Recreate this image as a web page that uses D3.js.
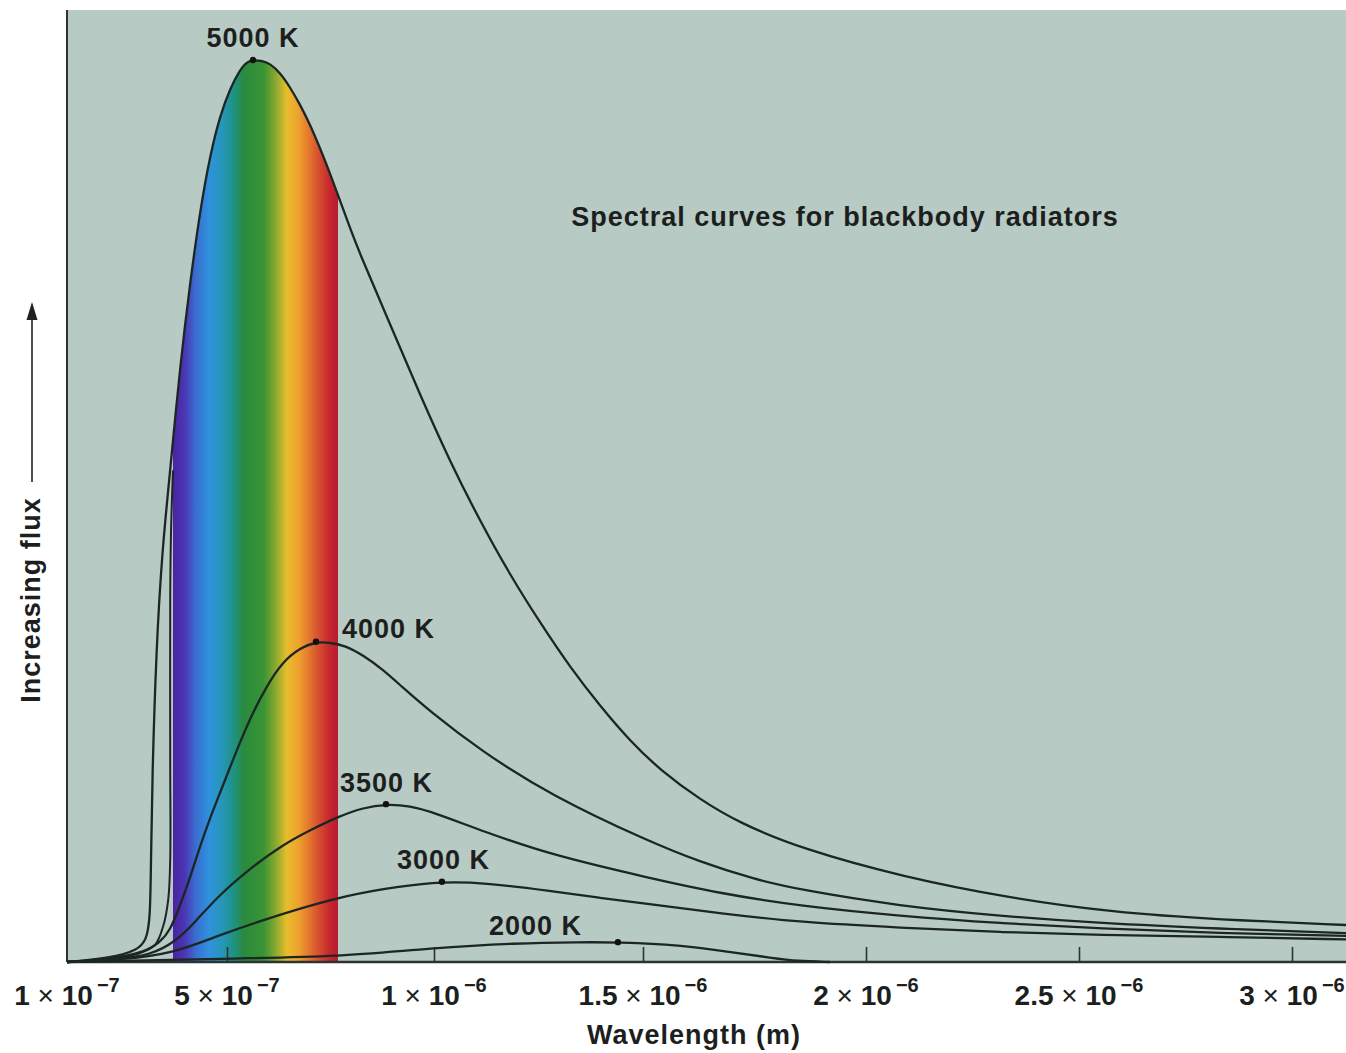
<!DOCTYPE html>
<html>
<head>
<meta charset="utf-8">
<script src="https://cdn.jsdelivr.net/npm/d3@7"></script>
<style>
  body { margin: 0; background: #fff; }
  text { font-family: "Liberation Sans", Arial, sans-serif; fill: #1c1f1e; }
</style>
</head>
<body>
<div id="chart"></div>
<script>
// wavelength in micrometres, flux in arbitrary units (5000 K peak = 100)
const temps = ["5000 K", "4000 K", "3500 K", "3000 K", "2000 K"];

const curve5000 = [[0.1,0],[0.208,0.44],[0.278,1.33],[0.298,2.44],[0.308,4.66],[0.31,11.3],[0.313,20.2],
  [0.323,34.6],[0.338,45.7],[0.358,54.5],[0.383,66.2],[0.408,75.4],[0.433,83.4],[0.458,89.5],[0.483,93.9],
  [0.508,96.9],[0.531,98.9],[0.548,99.8],[0.563,100],[0.585,99.9],[0.604,99.6],[0.628,98.6],[0.652,97.0],
  [0.676,95.1],[0.7,92.9],[0.725,90.2],[0.749,87.4],[0.773,84.4],[0.797,81.4],[0.821,78.5],[0.894,70.7],
  [0.966,62.9],[1.038,55.5],[1.11,48.9],[1.182,42.9],[1.254,37.6],[1.325,32.7],[1.397,28.4],[1.469,24.5],
  [1.538,21.3],[1.628,18.0],[1.717,15.4],[1.852,12.6],[2.089,9.4],[2.336,7.1],[2.58,5.5],[2.826,4.7],[3.127,4.1]];

const curve4000 = [[0.1,0],[0.208,0.33],[0.295,1.1],[0.333,2.2],[0.358,3.5],[0.383,6.3],[0.408,9.4],
  [0.433,12.9],[0.458,16.0],[0.483,18.8],[0.514,22.4],[0.556,27.1],[0.597,30.7],[0.635,33.3],[0.676,34.8],
  [0.715,35.5],[0.749,35.4],[0.785,35.1],[0.829,34.0],[0.877,32.4],[0.918,30.7],[0.99,27.8],[1.11,23.5],
  [1.278,18.5],[1.516,13.3],[1.628,11.1],[1.747,9.2],[1.852,8.0],[2.08,6.2],[2.315,5.1],[2.549,4.3],
  [2.826,3.7],[3.127,3.2]];

const curve3500 = [[0.1,0],[0.233,0.33],[0.308,0.78],[0.37,2.2],[0.42,4.4],[0.475,7.2],[0.556,10.4],
  [0.635,13.0],[0.7,14.6],[0.773,16.2],[0.829,17.1],[0.884,17.5],[0.942,17.3],[0.998,16.6],[1.117,14.5],
  [1.278,11.9],[1.516,9.3],[1.673,7.6],[1.852,6.2],[2.08,5.1],[2.315,4.3],[2.549,3.7],[2.826,3.2],[3.127,2.9]];

const curve3000 = [[0.1,0],[0.233,0.22],[0.37,1.0],[0.475,2.9],[0.635,5.4],[0.797,7.5],[0.918,8.4],
  [1.019,8.9],[1.117,8.8],[1.278,7.9],[1.397,7.1],[1.516,6.4],[1.673,5.4],[1.852,4.4],[2.08,3.8],
  [2.315,3.3],[2.549,3.0],[2.826,2.8],[3.127,2.5]];

const curve2000 = [[0.1,0],[0.556,0.44],[0.756,0.55],[0.998,1.55],[1.199,2.1],[1.349,2.2],[1.44,2.2],
  [1.583,1.9],[1.695,1.1],[1.791,0.44],[1.845,0.1],[1.919,0]];

// second dark outline left of the visible band
const bandOutline = [[0.1,0],[0.183,0.22],[0.283,1.0],[0.32,1.9],[0.34,3.9],[0.353,6.9],[0.358,11.3],
  [0.358,22.4],[0.358,40.1],[0.36,47.6],[0.365,54.5]];

const series = [curve5000, curve4000, curve3500, curve3000, curve2000];
const peaks = [[0.563,100],[0.715,35.5],[0.884,17.5],[1.019,8.9],[1.44,2.2]];

const visibleBand = [0.365, 0.768];

const xTicks = [0.1, 0.5, 1.0, 1.5, 2.0, 2.5, 3.0];
const xTickMant = ["1", "5", "1", "1.5", "2", "2.5", "3"];
const xTickExp = ["\u22127", "\u22127", "\u22126", "\u22126", "\u22126", "\u22126", "\u22126"];

const title = "Spectral curves for blackbody radiators";
const xTitle = "Wavelength (m)";
const yTitle = "Increasing flux";

const W = 1346, H = 1053;
const plotLeft = 67, plotTop = 10, plotBottom = 962;

const svg = d3.select("#chart").append("svg")
  .attr("width", W).attr("height", H);

const x = d3.scaleLinear()
  .domain(xTicks)
  .range([67, 227, 434, 643, 866, 1079, 1292]);

const y = d3.scaleLinear()
  .domain([0, 100])
  .range([plotBottom, 60]);

svg.append("rect")
  .attr("x", plotLeft).attr("y", plotTop)
  .attr("width", W - plotLeft).attr("height", plotBottom - plotTop)
  .attr("fill", "#b8cac4");

// rainbow fill under the 5000 K curve, limited to the visible band
const defs = svg.append("defs");
const grad = defs.append("linearGradient")
  .attr("id", "spectrum")
  .attr("gradientUnits", "userSpaceOnUse")
  .attr("x1", x(visibleBand[0])).attr("x2", x(visibleBand[1]))
  .attr("y1", 0).attr("y2", 0);
[
  [0.00, "#4b23a0"], [0.07, "#4a36b4"], [0.14, "#3a6fd0"], [0.22, "#2f92dc"],
  [0.30, "#2596b8"], [0.37, "#1f9282"], [0.43, "#2a8a3e"], [0.55, "#3a9434"],
  [0.62, "#86a830"], [0.69, "#e8bd2c"], [0.76, "#eea22e"], [0.82, "#e57a2e"],
  [0.89, "#d44a30"], [0.95, "#c5272e"], [1.00, "#b81d2e"]
].forEach(s => grad.append("stop").attr("offset", s[0]).attr("stop-color", s[1]));

defs.append("clipPath").attr("id", "bandClip")
  .append("rect")
  .attr("x", x(visibleBand[0])).attr("y", 0)
  .attr("width", x(visibleBand[1]) - x(visibleBand[0]))
  .attr("height", plotBottom);

const curveType = d3.curveBasis;

const area = d3.area()
  .x(d => x(d[0]))
  .y0(y(0))
  .y1(d => y(d[1]))
  .curve(curveType);

svg.append("path")
  .datum(curve5000)
  .attr("clip-path", "url(#bandClip)")
  .attr("fill", "url(#spectrum)")
  .attr("d", area);

// axes
svg.append("line")
  .attr("x1", plotLeft).attr("x2", plotLeft).attr("y1", plotTop).attr("y2", plotBottom)
  .attr("stroke", "#2b3432").attr("stroke-width", 2);

const xAxis = d3.axisBottom(x)
  .tickValues(xTicks.slice(1))
  .tickSize(-15)
  .tickFormat("");
svg.append("g")
  .attr("transform", `translate(0,${plotBottom})`)
  .call(xAxis)
  .call(g => g.select(".domain").attr("stroke", "#2b3432").attr("stroke-width", 2.5)
    .attr("d", `M${plotLeft},0H${W}`))
  .call(g => g.selectAll(".tick line").attr("stroke", "#2b3432").attr("stroke-width", 1.6));

// curves
const line = d3.line()
  .x(d => x(d[0]))
  .y(d => y(d[1]))
  .curve(curveType);

const outline = d3.line()
  .x(d => x(d[0]))
  .y(d => y(d[1]))
  .curve(d3.curveCatmullRom.alpha(0.5));

svg.append("path")
  .datum(bandOutline)
  .attr("fill", "none")
  .attr("stroke", "#1c2624")
  .attr("stroke-width", 2)
  .attr("d", outline);

svg.selectAll(".curve")
  .data(series)
  .enter().append("path")
  .attr("class", "curve")
  .attr("fill", "none")
  .attr("stroke", "#1c2624")
  .attr("stroke-width", 2.3)
  .attr("d", line);

svg.selectAll(".peak")
  .data(peaks)
  .enter().append("circle")
  .attr("class", "peak")
  .attr("cx", d => x(d[0]))
  .attr("cy", d => y(d[1]))
  .attr("r", 3.2)
  .attr("fill", "#111");

// curve labels: [dx, dy, anchor]
const labelPos = [[0, -13, "middle"], [26, -4, "start"], [-46, -12, "start"], [-45, -13, "start"], [-129, -7, "start"]];
svg.selectAll(".tlabel")
  .data(temps)
  .enter().append("text")
  .attr("class", "tlabel")
  .attr("x", (d, i) => x(peaks[i][0]) + labelPos[i][0])
  .attr("y", (d, i) => y(peaks[i][1]) + labelPos[i][1])
  .attr("text-anchor", (d, i) => labelPos[i][2])
  .attr("font-size", 27)
  .attr("font-weight", "bold")
  .attr("letter-spacing", 1)
  .text(d => d);

// tick labels
const tl = svg.selectAll(".xtl")
  .data(xTicks)
  .enter().append("text")
  .attr("class", "xtl")
  .attr("x", d => x(d))
  .attr("y", 1005)
  .attr("text-anchor", "middle")
  .attr("font-size", 28)
  .attr("font-weight", "bold");
tl.append("tspan").text((d, i) => xTickMant[i]);
tl.append("tspan").attr("font-weight", "normal").text(" \u00d7 ");
tl.append("tspan").text("10");
tl.append("tspan").attr("dy", -13).attr("dx", 4).attr("font-size", 20).text((d, i) => xTickExp[i]);

svg.append("text")
  .attr("x", 694).attr("y", 1044)
  .attr("text-anchor", "middle")
  .attr("font-size", 27).attr("font-weight", "bold").attr("letter-spacing", 1)
  .text(xTitle);

svg.append("text")
  .attr("transform", "translate(40,600) rotate(-90)")
  .attr("text-anchor", "middle")
  .attr("font-size", 27).attr("font-weight", "bold").attr("letter-spacing", 1)
  .text(yTitle);

svg.append("line")
  .attr("x1", 32).attr("x2", 32).attr("y1", 482).attr("y2", 316)
  .attr("stroke", "#222").attr("stroke-width", 1.6);
svg.append("path")
  .attr("d", "M32,302L26.5,320L37.5,320Z")
  .attr("fill", "#222");

svg.append("text")
  .attr("x", 845).attr("y", 226)
  .attr("text-anchor", "middle")
  .attr("font-size", 27).attr("font-weight", "bold").attr("letter-spacing", 1)
  .text(title);
</script>
</body>
</html>
